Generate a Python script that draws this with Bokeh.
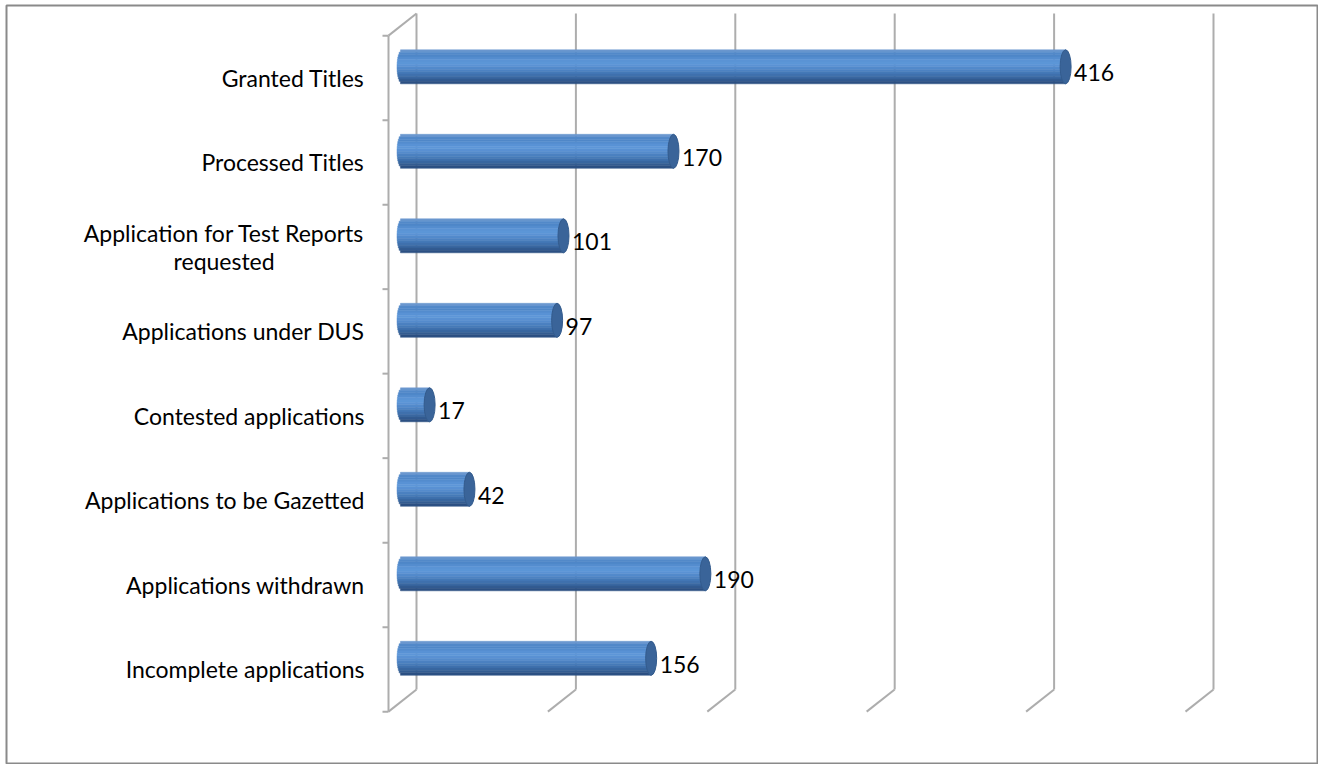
import math
from bokeh.plotting import figure
from bokeh.models import Range1d
from bokeh.core.properties import value
from bokeh.embed import file_html
from bokeh.resources import INLINE

# ---- data ----
categories = [
    "Granted Titles",
    "Processed Titles",
    "Application for Test Reports\nrequested",
    "Applications under DUS",
    "Contested applications",
    "Applications to be Gazetted",
    "Applications withdrawn",
    "Incomplete applications",
]
values = [416, 170, 101, 97, 17, 42, 190, 156]
grid_ticks = [0, 100, 200, 300, 400, 500]

# ---- geometry / style ----
W, H = 1318, 764
MB_L, MB_T, MB_R, MB_B = 6, 5, 1, 1
FW = W - MB_L - MB_R
FH = H - MB_T - MB_B
PX_X = 1.594          # pixels per value unit
PX_Y = 84.5           # pixels per category
X0_FRAME = 402.0 - MB_L   # frame x of value 0 (mid depth)
Y0_FRAME = 66.3 - MB_T    # frame y of first category centre (mid depth)

DEPTH_X = 14.0 / PX_X
DEPTH_Y = 11.1 / PX_Y
BAR_R = 17.0 / PX_Y
CAP_A = 5.5 / PX_X
TICK_LEN = 6.0 / PX_X

x_start = -X0_FRAME / PX_X
x_end = (FW - X0_FRAME) / PX_X
y_top = -Y0_FRAME / PX_Y
y_bottom = (FH - Y0_FRAME) / PX_Y

FONT = "Lato"
LINE_COLOR = "#ADADAD"
n = len(categories)

p = figure(width=W, height=H, output_backend="svg", toolbar_location=None,
           x_range=Range1d(x_start, x_end), y_range=Range1d(y_bottom, y_top),
           x_axis_type=None, y_axis_type=None,
           min_border_left=MB_L, min_border_top=MB_T,
           min_border_right=MB_R, min_border_bottom=MB_B)
p.grid.visible = False
p.background_fill_color = "white"
p.border_fill_color = "white"
p.outline_line_color = "#8A8A8A"
p.outline_line_width = 2

# ---- 3D frame: back wall gridlines ----
back_top = -0.5 - DEPTH_Y
back_bot = n - 0.5 - DEPTH_Y
front_top = -0.5 + DEPTH_Y
front_bot = n - 0.5 + DEPTH_Y

gx = [t + DEPTH_X for t in grid_ticks]
p.segment(x0=gx, y0=[back_top] * len(gx), x1=gx, y1=[back_bot] * len(gx),
          line_color=LINE_COLOR, line_width=2)
# floor lines
fx = [t - DEPTH_X for t in grid_ticks]
p.segment(x0=gx, y0=[back_bot] * len(gx), x1=fx, y1=[front_bot] * len(gx),
          line_color=LINE_COLOR, line_width=2)
# left front axis
p.segment(x0=[-DEPTH_X], y0=[front_top], x1=[-DEPTH_X], y1=[front_bot],
          line_color=LINE_COLOR, line_width=2)
# top-left diagonal
p.segment(x0=[-DEPTH_X], y0=[front_top], x1=[DEPTH_X], y1=[back_top],
          line_color=LINE_COLOR, line_width=2)
# ticks on category axis
ty = [front_top + i for i in range(n + 1)]
p.segment(x0=[-DEPTH_X] * len(ty), y0=ty, x1=[-DEPTH_X - TICK_LEN] * len(ty), y1=ty,
          line_color=LINE_COLOR, line_width=2)

# ---- cylinders ----
profile = ["#6A97CF", "#5289C9", "#4F87C8", "#548DCF", "#5A93D5", "#5D96D8",
           "#5A92D4", "#548BCC", "#4C82C2", "#457AB8", "#3F71AD", "#3967A0",
           "#335C91", "#2C5083"]
N = len(profile)
L, R, T, B, C = [], [], [], [], []
for k, v in enumerate(values):
    for j in range(N):
        t0 = -1 + 2 * j / N
        t1 = -1 + 2 * (j + 1) / N
        tc = (t0 + t1) / 2
        L.append(-CAP_A * math.sqrt(max(0.0, 1 - tc * tc)))
        R.append(v)
        T.append(k + t0 * BAR_R)
        B.append(k + t1 * BAR_R)
        C.append(profile[j])
p.quad(left=L, right=R, top=T, bottom=B, fill_color=C, line_color=C, line_width=0.5)

ys = list(range(n))
p.ellipse(x=values, y=ys, width=2 * CAP_A, height=2 * BAR_R,
          fill_color="#3A6499", line_color="#335B8D", line_width=1)

# ---- value labels ----
p.text(x=[v + CAP_A + 3.0 / PX_X for v in values], y=[k + 6.0 / PX_Y for k in ys],
       text=[str(v) for v in values], text_align="left", text_baseline="middle",
       text_font=value(FONT), text_font_size="23px", text_color="black")

# ---- category labels ----
p.text(x=[-DEPTH_X - 24.0 / PX_X] * n, y=[k + DEPTH_Y for k in ys], text=categories,
       anchor="center_right", text_align="center", text_baseline="middle",
       text_line_height=0.98,
       text_font=value(FONT), text_font_size="23px", text_color="black")

open("out.html", "w").write(file_html(p, INLINE))
